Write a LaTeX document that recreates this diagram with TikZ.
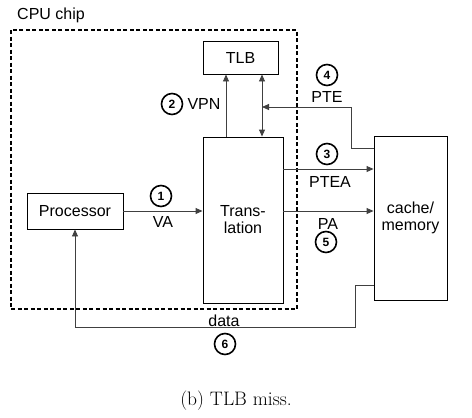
\documentclass[tikz,border=0pt]{standalone}
\usepackage{fontspec}
\newfontfamily\arialfont{Liberation Sans}
\usetikzlibrary{arrows.meta}

\tikzset{
  box/.style={draw, line width=0.9pt, inner sep=0pt, font=\arialfont\fontsize{16}{19}\selectfont, align=center},
  arr/.style={draw=black!75, line width=0.9pt, -{Triangle[length=7pt,width=6pt]}},
  lbl/.style={font=\arialfont\fontsize{16}{19}\selectfont, inner sep=0pt},
  numc/.style={circle, draw, line width=1.6pt, inner sep=0pt, minimum size=21pt, font=\arialfont\bfseries\fontsize{12}{12}\selectfont}
}

\begin{document}
\begin{tikzpicture}[x=1pt,y=-1pt]
\useasboundingbox (0,0) rectangle (472,418);

% chip outline
\draw [line width=1.2pt, dash pattern=on 4pt off 2.5pt] (11,30) rectangle (297,309);
\node [lbl, anchor=west] (chip) at (17,15) {CPU chip};

% boxes
\node [box, minimum width=75pt, minimum height=33pt] (tlb) at (240.5,57.5) {TLB};
\node [box, minimum width=80pt, minimum height=166pt] (trans) at (243,220) {Trans-\\[-2pt]lation};
\node [box, minimum width=96pt, minimum height=36pt] (proc) at (75,211) {Processor};
\node [box, minimum width=73pt, minimum height=164pt] (cache) at (410.5,218) {cache/\\[-2pt]memory};

\coordinate (pteturn) at (351,107);
\coordinate (dataturn) at (355,327);

% connectors
\draw [arr] (proc.east) -- (proc.east -| trans.west);
\draw [arr] ([xshift=-17pt]trans.north) -- ([xshift=-17pt]trans.north |- tlb.south);
\draw [arr, {Triangle[length=7pt,width=6pt]}-{Triangle[length=7pt,width=6pt]}] ([xshift=19pt]trans.north) -- ([xshift=19pt]trans.north |- tlb.south);
\draw [arr] ([yshift=70pt]cache.west) -| (pteturn) -- ([xshift=19pt]trans.north |- pteturn);
\draw [arr] ([yshift=51pt]trans.east) -- ([yshift=51pt]trans.east -| cache.west);
\draw [arr] ([yshift=9pt]trans.east) -- ([yshift=9pt]trans.east -| cache.west);
\draw [arr] ([yshift=-67pt]cache.west) -| (dataturn) -- (dataturn -| proc.south) -- (proc.south);

% labels
\node [numc] (n1) at (161,196) {1};
\node [lbl] (va) at (163,222) {VA};
\node [numc] (n2) at (172,104) {2};
\node [lbl] (vpn) at (204,104) {VPN};
\node [numc] (n3) at (327,154) {3};
\node [lbl] (ptea) at (330,182) {PTEA};
\node [numc] (n4) at (327,75) {4};
\node [lbl] (pte) at (327,97) {PTE};
\node [lbl] (pa) at (328,224) {PA};
\node [numc] (n5) at (326,242) {5};
\node [lbl] (data) at (224,321) {data};
\node [numc] (n6) at (225,344) {6};

% caption
\node [font=\fontsize{19.5}{22}\selectfont] (cap) at (236,401) {(b) TLB miss.};
\end{tikzpicture}
\end{document}
